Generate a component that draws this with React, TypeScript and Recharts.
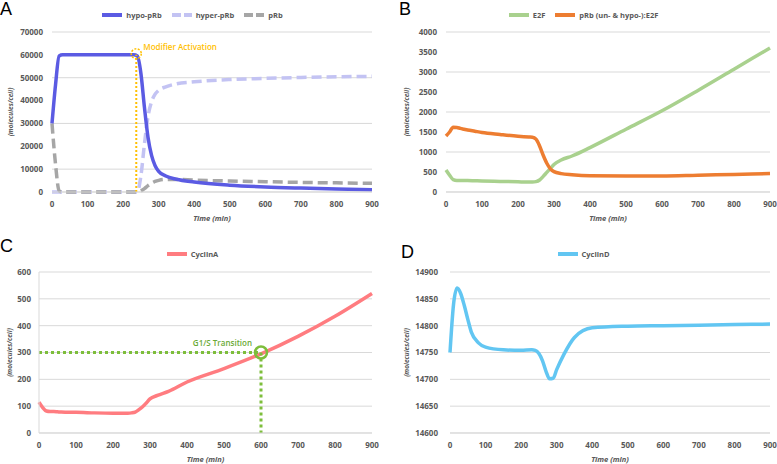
import {
  LineChart,
  Line,
  XAxis,
  YAxis,
  CartesianGrid,
  Legend,
  ReferenceLine,
  ReferenceDot,
} from 'recharts';

// simulation time points (min)
const timeMin = [0, 10, 20, 30, 40, 50, 60, 80, 100, 150, 200, 230, 240, 250, 260, 270, 280, 290, 300, 320, 350, 400, 500, 600, 700, 800, 900];

// panel A
const hypoPRb = [30000, 47000, 59500, 60000, 60000, 60000, 60000, 60000, 60000, 60000, 60000, 60000, 59500, 52000, 37000, 24000, 16000, 11500, 9000, 7000, 5600, 4400, 3000, 2200, 1700, 1300, 1000];
const hyperPRb = [0, 0, 0, 0, 0, 0, 0, 0, 0, 0, 0, 0, 0, 7000, 21000, 33000, 39500, 42800, 44500, 46000, 47300, 48200, 49200, 49700, 50100, 50400, 50600];
const pRb = [30000, 12000, 500, 0, 0, 0, 0, 0, 0, 0, 0, 0, 0, 500, 1500, 2800, 3800, 4600, 5100, 5500, 5500, 5200, 4800, 4500, 4200, 4000, 3800];

// panel B
const e2f = [550, 420, 310, 290, 290, 290, 285, 280, 275, 265, 255, 250, 250, 260, 300, 390, 490, 590, 690, 800, 900, 1110, 1570, 2030, 2540, 3070, 3600];
const pRbE2F = [1400, 1500, 1620, 1615, 1590, 1570, 1550, 1520, 1490, 1440, 1395, 1375, 1370, 1320, 1150, 920, 720, 580, 510, 460, 430, 405, 400, 400, 420, 440, 460];

// panel C
const cyclinA = [115, 95, 82, 80, 80, 79, 78, 77, 77, 75, 74, 74, 74, 75, 78, 87, 98, 112, 127, 140, 155, 190, 240, 295, 360, 435, 520];

// panel D
const cyclinD = [14750, 14840, 14870, 14860, 14838, 14812, 14788, 14768, 14760, 14755, 14754, 14755, 14754, 14748, 14735, 14715, 14701, 14702, 14718, 14746, 14778, 14796, 14799, 14800, 14801, 14802, 14803];

const timeTicks = [0, 100, 200, 300, 400, 500, 600, 700, 800, 900];
const ticksA = [0, 10000, 20000, 30000, 40000, 50000, 60000, 70000];
const ticksB = [0, 500, 1000, 1500, 2000, 2500, 3000, 3500, 4000];
const ticksC = [0, 100, 200, 300, 400, 500, 600];
const ticksD = [14600, 14650, 14700, 14750, 14800, 14850, 14900];

// annotations
const modifierTime = 237;
const modifierLevel = 60000;
const g1sTime = 600;
const g1sLevel = 300;

const rowsA = timeMin.map((t, i) => ({ t, hypo: hypoPRb[i], hyper: hyperPRb[i], prb: pRb[i] }));
const rowsB = timeMin.map((t, i) => ({ t, e2f: e2f[i], complex: pRbE2F[i] }));
const rowsC = timeMin.map((t, i) => ({ t, cycA: cyclinA[i] }));
const rowsD = timeMin.map((t, i) => ({ t, cycD: cyclinD[i] }));

const GREY = '#595959';
const GRID = '#D9D9D9';
const FONT = '"Open Sans", Lato, sans-serif';
const tickStyle = { fontSize: 8, fontWeight: 700, fill: GREY, fontFamily: FONT };

type Item = { label: string; color: string; dash?: string };

function LegendBox({ items }: { items: Item[] }) {
  return (
    <div style={{ display: 'flex', justifyContent: 'center', gap: 10, fontSize: 7.5, fontWeight: 700, color: GREY, fontFamily: FONT, lineHeight: '10px' }}>
      {items.map((it) => (
        <span key={it.label} style={{ display: 'flex', alignItems: 'center' }}>
          <svg width={20} height={6}>
            <line x1={0} y1={3} x2={20} y2={3} stroke={it.color} strokeWidth={4} strokeDasharray={it.dash} />
          </svg>
          <span style={{ marginLeft: 4 }}>{it.label}</span>
        </span>
      ))}
    </div>
  );
}

const yTitle = (x: number) => (p: any) => {
  const vb = p.viewBox;
  const cy = vb.y + vb.height / 2;
  return (
    <text x={x} y={cy} transform={`rotate(-90, ${x}, ${cy})`} textAnchor="middle" dominantBaseline="central"
      fontSize={6.5} fontWeight={700} fontStyle="italic" fill={GREY} fontFamily={FONT}>
      (molecules/cell)
    </text>
  );
};

const xTitle = (y: number) => (p: any) => {
  const vb = p.viewBox;
  return (
    <text x={vb.x + vb.width / 2} y={y} textAnchor="middle" dominantBaseline="central"
      fontSize={7.5} fontWeight={700} fontStyle="italic" fill={GREY} fontFamily={FONT}>
      Time (min)
    </text>
  );
};

const dotNote = (text: string, color: string, dx: number, dy: number, anchor: 'start' | 'end') => (p: any) => {
  const vb = p.viewBox;
  const cx = vb.x + vb.width / 2;
  const cy = vb.y + vb.height / 2;
  return (
    <text x={cx + dx} y={cy + dy} textAnchor={anchor} dominantBaseline="central" fontSize={8} fontWeight={600} fill={color} fontFamily={FONT}>
      {text}
    </text>
  );
};

function PanelLetter({ text, left, top }: { text: string; left: number; top: number }) {
  return (
    <div style={{ position: 'absolute', left, top, fontSize: 18, fontFamily: '"Liberation Sans", Arial, sans-serif', color: '#000', lineHeight: '18px' }}>
      {text}
    </div>
  );
}

export default function App() {
  return (
    <div style={{ position: 'absolute', left: 0, top: 0, width: 777, height: 464, background: '#fff', overflow: 'hidden' }}>
      {/* A */}
      <div style={{ position: 'absolute', left: 0, top: 0 }}>
        <LineChart width={385} height={228} data={rowsA} margin={{ top: 32, right: 13, bottom: 6, left: 0 }}>
          <CartesianGrid vertical={false} stroke={GRID} />
          <XAxis dataKey="t" type="number" domain={[0, 900]} ticks={timeTicks} tick={tickStyle} tickLine={false} tickSize={0} tickMargin={9} axisLine={{ stroke: GRID }} height={30} label={{ content: xTitle(218) }} />
          <YAxis domain={[0, 70000]} ticks={ticksA} tick={tickStyle} tickLine={false} tickSize={0} tickMargin={9} axisLine={false} width={52} label={{ content: yTitle(10) }} />
          <Legend verticalAlign="middle" align="center" wrapperStyle={{ top: 10, left: 0, width: 385 }}
            content={() => <LegendBox items={[{ label: 'hypo-pRb', color: '#5B5BE3' }, { label: 'hyper-pRb', color: '#C3C3F3', dash: '9 3' }, { label: 'pRb', color: '#A6A6A6', dash: '9 3' }]} />} />
          <Line type="monotone" dataKey="hyper" stroke="#C3C3F3" strokeWidth={3.5} strokeDasharray="10 5" dot={false} isAnimationActive={false} />
          <Line type="monotone" dataKey="prb" stroke="#A6A6A6" strokeWidth={3.5} strokeDasharray="10 5" dot={false} isAnimationActive={false} />
          <Line type="monotone" dataKey="hypo" stroke="#5B5BE3" strokeWidth={3.5} dot={false} isAnimationActive={false} />
          <ReferenceLine segment={[{ x: modifierTime, y: 0 }, { x: modifierTime, y: modifierLevel }]} stroke="#FFC000" strokeWidth={2} strokeDasharray="2 2" />
          <ReferenceDot x={modifierTime} y={modifierLevel + 500} r={5} fill="none" stroke="#FFC000" strokeWidth={1.5} strokeDasharray="2 1.5"
            label={{ content: dotNote('Modifier Activation', '#FFC000', 7, -7, 'start') }} />
        </LineChart>
      </div>

      {/* B */}
      <div style={{ position: 'absolute', left: 390, top: 0 }}>
        <LineChart width={387} height={228} data={rowsB} margin={{ top: 32, right: 7, bottom: 6, left: 0 }}>
          <CartesianGrid vertical={false} stroke={GRID} />
          <XAxis dataKey="t" type="number" domain={[0, 900]} ticks={timeTicks} tick={tickStyle} tickLine={false} tickSize={0} tickMargin={9} axisLine={{ stroke: GRID }} height={30} label={{ content: xTitle(218) }} />
          <YAxis domain={[0, 4000]} ticks={ticksB} tick={tickStyle} tickLine={false} tickSize={0} tickMargin={9} axisLine={false} width={56} label={{ content: yTitle(16) }} />
          <Legend verticalAlign="middle" align="center" wrapperStyle={{ top: 10, left: 0, width: 387 }}
            content={() => <LegendBox items={[{ label: 'E2F', color: '#A9D18E' }, { label: 'pRb (un- & hypo-):E2F', color: '#ED7D31' }]} />} />
          <Line type="monotone" dataKey="e2f" stroke="#A9D18E" strokeWidth={3.5} dot={false} isAnimationActive={false} />
          <Line type="monotone" dataKey="complex" stroke="#ED7D31" strokeWidth={3.5} dot={false} isAnimationActive={false} />
        </LineChart>
      </div>

      {/* C */}
      <div style={{ position: 'absolute', left: 0, top: 230 }}>
        <LineChart width={385} height={234} data={rowsC} margin={{ top: 42, right: 13, bottom: 1, left: 0 }}>
          <CartesianGrid vertical={false} stroke={GRID} />
          <XAxis dataKey="t" type="number" domain={[0, 900]} ticks={timeTicks} tick={tickStyle} tickLine={false} tickSize={0} tickMargin={9} axisLine={{ stroke: GRID }} height={30} label={{ content: xTitle(229) }} />
          <YAxis domain={[0, 600]} ticks={ticksC} tick={tickStyle} tickLine={false} tickSize={0} tickMargin={8} axisLine={{ stroke: GRID }} width={39} label={{ content: yTitle(9) }} />
          <Legend verticalAlign="middle" align="center" wrapperStyle={{ top: 19, left: 0, width: 385 }}
            content={() => <LegendBox items={[{ label: 'CyclinA', color: '#FF7C80' }]} />} />
          <Line type="monotone" dataKey="cycA" stroke="#FF7C80" strokeWidth={3.5} dot={false} isAnimationActive={false} />
          <ReferenceLine segment={[{ x: 0, y: g1sLevel }, { x: g1sTime, y: g1sLevel }]} stroke="#7DBE3B" strokeWidth={3} strokeDasharray="3 3" />
          <ReferenceLine segment={[{ x: g1sTime, y: g1sLevel }, { x: g1sTime, y: 0 }]} stroke="#7DBE3B" strokeWidth={3} strokeDasharray="3 3" />
          <ReferenceDot x={g1sTime} y={g1sLevel} r={6} fill="none" stroke="#7DBE3B" strokeWidth={2.5}
            label={{ content: dotNote('G1/S Transition', '#6AAA35', -9, -10, 'end') }} />
        </LineChart>
      </div>

      {/* D */}
      <div style={{ position: 'absolute', left: 390, top: 230 }}>
        <LineChart width={387} height={234} data={rowsD} margin={{ top: 42, right: 7, bottom: 1, left: 0 }}>
          <CartesianGrid vertical={false} stroke={GRID} />
          <XAxis dataKey="t" type="number" domain={[0, 900]} ticks={timeTicks} tick={tickStyle} tickLine={false} tickSize={0} tickMargin={9} axisLine={{ stroke: GRID }} height={30} label={{ content: xTitle(229) }} />
          <YAxis domain={[14600, 14900]} ticks={ticksD} tick={tickStyle} tickLine={false} tickSize={0} tickMargin={12} axisLine={false} width={60} label={{ content: yTitle(16) }} />
          <Legend verticalAlign="middle" align="center" wrapperStyle={{ top: 19, left: 0, width: 387 }}
            content={() => <LegendBox items={[{ label: 'CyclinD', color: '#62C6F2' }]} />} />
          <Line type="monotone" dataKey="cycD" stroke="#62C6F2" strokeWidth={3.5} dot={false} isAnimationActive={false} />
        </LineChart>
      </div>

      <PanelLetter text="A" left={0} top={0} />
      <PanelLetter text="B" left={399} top={0} />
      <PanelLetter text="C" left={0} top={237} />
      <PanelLetter text="D" left={401} top={243} />
    </div>
  );
}
